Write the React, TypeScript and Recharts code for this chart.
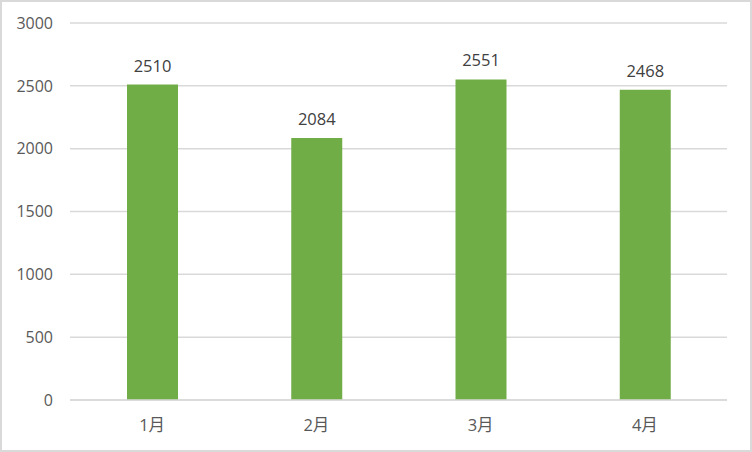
import React from "react";
import { BarChart, Bar, XAxis, YAxis, CartesianGrid, LabelList } from "recharts";

const months = ["1月", "2月", "3月", "4月"];
const amounts = [2510, 2084, 2551, 2468];
const yTicks = [0, 500, 1000, 1500, 2000, 2500, 3000];

const data = months.map((m, i) => ({ month: m, value: amounts[i] }));

const font = "'Open Sans', 'Noto Sans CJK SC', sans-serif";

export default function App() {
  return (
    <div
      style={{
        position: "fixed",
        left: 0,
        top: 0,
        width: 752,
        height: 452,
        background: "#fff",
        border: "2px solid #d9d9d9",
        boxSizing: "border-box",
        fontFamily: font,
      }}
    >
      <div style={{ position: "absolute", left: -2, top: -2 }}>
        <BarChart
          width={752}
          height={452}
          data={data}
          margin={{ top: 23, right: 25, bottom: 22, left: 0 }}
        >
          <CartesianGrid vertical={false} stroke="#d9d9d9" strokeWidth={1.5} />
          <XAxis
            dataKey="month"
            height={30}
            tickLine={false}
            axisLine={{ stroke: "#d9d9d9", strokeWidth: 1.5 }}
            tickMargin={13}
            tick={{ fill: "#595959", fontSize: 16.5, fontFamily: font }}
          />
          <YAxis
            width={70}
            domain={[0, 3000]}
            ticks={yTicks}
            interval={0}
            tickLine={false}
            axisLine={false}
            tickMargin={11}
            tick={{ fill: "#595959", fontSize: 16, fontFamily: font }}
          />
          <Bar dataKey="value" fill="#70ad47" barSize={51} isAnimationActive={false}>
            <LabelList
              dataKey="value"
              position="top"
              offset={13}
              fill="#404040"
              fontSize={16.5}
              fontFamily={font}
            />
          </Bar>
        </BarChart>
      </div>
    </div>
  );
}
